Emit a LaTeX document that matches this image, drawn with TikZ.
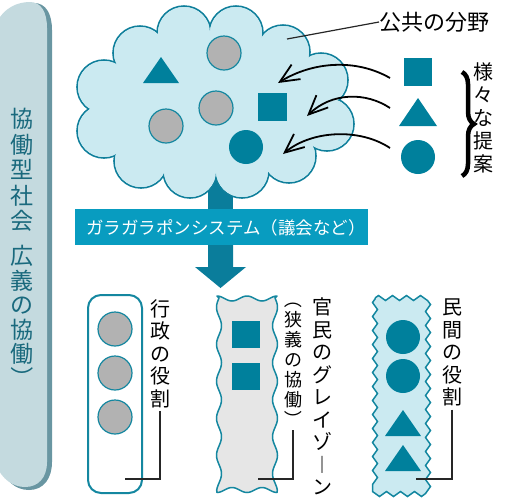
\documentclass[tikz,border=0pt]{standalone}
\usepackage{fontspec}
\usepackage{graphicx}
\newfontfamily\jp{Noto Sans CJK JP}
\usetikzlibrary{decorations.pathmorphing,decorations.pathreplacing,arrows.meta}
\definecolor{tealA}{RGB}{0,128,156}
\definecolor{tealB}{RGB}{20,135,160}
\definecolor{cloudfill}{RGB}{203,234,241}
\definecolor{cloudline}{RGB}{15,127,155}
\definecolor{greyA}{RGB}{178,178,178}
\definecolor{greyW}{RGB}{230,230,230}
\definecolor{barcol}{RGB}{8,156,192}
\definecolor{stemcol}{RGB}{10,125,155}
\definecolor{pillfill}{RGB}{196,218,223}
\definecolor{pillshadow}{RGB}{105,150,162}
\definecolor{pilltext}{RGB}{25,105,125}
\newcommand{\vlp}{\rotatebox[origin=c]{-90}{（}}
\newcommand{\vrp}{\rotatebox[origin=c]{-90}{）}}
\begin{document}
\begin{tikzpicture}[x=1pt,y=-1pt,
  jpv/.style={align=center, inner sep=0pt, anchor=north, font=\jp\fontsize{20}{22.5}\selectfont},
  tealshape/.style={fill=tealA, draw=none},
  greyc/.style={fill=greyA, draw=tealB, line width=1.2pt},
  tealc/.style={fill=tealA, draw=none},
  leader/.style={draw=black!85, line width=1.2pt},
  bigarr/.style={draw=black, line width=1.8pt, -{Straight Barb[length=19pt,width=17pt,line width=1.8pt]}},
  cloudlobe/.style={fill=cloudfill, draw=cloudline, line width=1.6pt}
]
\useasboundingbox (0,0) rectangle (516,499);

% left pill
\fill[pillshadow] (2,22) .. controls (9,8) and (21,3) .. (34,3) .. controls (46,3) and (52,14) .. (52,30) -- (52,462) .. controls (52,478) and (44,490) .. (29,490) .. controls (15,490) and (5,480) .. (2,468) -- cycle;
\fill[pillfill] (-3,22) .. controls (4,8) and (17,2) .. (30,2) .. controls (41,2) and (47,12) .. (47,28) -- (47,462) .. controls (47,478) and (38,487) .. (25,487) .. controls (12,487) and (2,478) .. (-3,467) -- cycle;
\node[jpv, text=pilltext, font=\jp\fontsize{23}{25.5}\selectfont] (pilltxt) at (22,108) {協\\働\\型\\社\\会};
\node[jpv, text=pilltext, font=\jp\fontsize{23}{24.5}\selectfont] (pilltxtb) at (22,245) {広\\義\\の\\協\\働\\\vrp};

% stem above bar (behind cloud)
\fill[stemcol] (208,175) rectangle (233,210);

% cloud
\foreach \p in {(184,33),(140,53),(104,87),(104,131),(141,161),(190,171),(242,171),(289,156),(327,124),(321,80),(283,52),(236,33)}
  \filldraw[cloudlobe] \p circle (27);
\fill[cloudfill] (184,33) -- (140,53) -- (104,87) -- (104,131) -- (141,161) -- (190,171) -- (242,171) -- (289,156) -- (327,124) -- (321,80) -- (283,52) -- (236,33) -- cycle;
\foreach \p in {(184,33),(140,53),(104,87),(104,131),(141,161),(190,171),(242,171),(289,156),(327,124),(321,80),(283,52),(236,33)}
  \fill[cloudfill] \p circle (26.0);

% contents of cloud
\fill[tealshape] (161,57) -- (179,83) -- (143,83) -- cycle;
\filldraw[greyc] (224,53) circle (17);
\filldraw[greyc] (216,108) circle (17);
\filldraw[greyc] (166,126) circle (17);
\fill[tealshape] (258,93) rectangle (287,121);
\fill[tealc] (246,147) circle (17);

% label public field
\node[inner sep=0pt, font=\jp\fontsize{22}{24}\selectfont, anchor=west] (public) at (379,22) {公共の分野};
\coordinate (pubin) at (287,39);
\draw[leader] (pubin) -- (public.west);

% right proposals
\fill[tealshape] (404,58) rectangle (432,86);
\fill[tealshape] (418,98) -- (437,126) -- (399,126) -- cycle;
\fill[tealc] (418,157) circle (17);
\coordinate (a1s) at (390,78);  \coordinate (a1e) at (278,83);
\coordinate (a2s) at (390,108); \coordinate (a2e) at (307,116);
\coordinate (a3s) at (390,148); \coordinate (a3e) at (283,154);
\draw[bigarr] (a1s) .. controls (355,58) and (312,62) .. (a1e);
\draw[bigarr] (a2s) .. controls (366,92) and (332,92) .. (a2e);
\draw[bigarr] (a3s) .. controls (360,128) and (312,130) .. (a3e);

% brace and text
\coordinate (bt) at (462,72); \coordinate (bb) at (462,176);
\draw[decorate, decoration={brace, amplitude=12pt}, line width=4.5pt] (bt) -- (bb);
\node[jpv, font=\jp\fontsize{20}{23}\selectfont] (teian) at (483,62) {様\\々\\な\\提\\案};

% bar
\fill[barcol] (75,209) rectangle (368,245);
\node[inner sep=0pt, text=white, font=\jp\fontsize{17.5}{20}\selectfont] (bar) at (226,228) {ガラガラポンシステム（議会など）};

% down arrow
\fill[stemcol] (208,245) -- (233,245) -- (233,267) -- (246,267) -- (220.5,288) -- (195,267) -- (208,267) -- cycle;

% administration
\draw[draw=tealB, line width=2pt, rounded corners=13pt, fill=white] (88,295) rectangle (142,493);
\filldraw[greyc] (115,329) circle (17);
\filldraw[greyc] (115,373) circle (17);
\filldraw[greyc] (115,417) circle (17);
\node[jpv] (gyosei) at (160,299) {行\\政\\の\\役\\割};
\coordinate (g1) at (125,479);
\draw[leader] (gyosei.south) ++(0,3) |- (g1);

% grey zone (wavy)
\filldraw[fill=greyW, draw=tealB, line width=1.5pt, line join=round]
  plot[domain=217:277, samples=41, variable=\x] (\x, {298.5-2.5*cos(12*(\x-217))})
  -- plot[domain=298:490, samples=90, variable=\y] ({275+2.5*sin(9.73*(\y-298))}, \y)
  -- plot[domain=277:217, samples=41, variable=\x] (\x, {490+2.5*cos(12*(\x-217))})
  -- plot[domain=490:298, samples=90, variable=\y] ({219-2.5*sin(9.73*(\y-298))}, \y) -- cycle;
\fill[tealshape] (232,321) rectangle (260,348);
\fill[tealshape] (232,363) rectangle (260,390);
\node[jpv] (kanmin) at (322,298) {官\\民\\の\\グ\\レ\\イ\\ゾ\\︱\\ン};
\node[jpv, font=\jp\fontsize{18}{20}\selectfont] (kyogi) at (293,290) {\vlp\\狭\\義\\の\\協\\働\\\vrp};
\coordinate (k1) at (258,479);
\draw[leader] (kyogi.south) ++(0,2) |- (k1);

% private
\filldraw[fill=cloudfill, draw=tealB, line width=1.5pt, decorate, decoration={zigzag, amplitude=2.5pt, segment length=14pt}] (375,298) -- (428,298) -- (428,494) -- (375,494) -- cycle;
\fill[tealc] (403,337) circle (17);
\fill[tealc] (403,376) circle (17);
\fill[tealshape] (403,410) -- (421,436) -- (385,436) -- cycle;
\fill[tealshape] (403,445) -- (421,471) -- (385,471) -- cycle;
\node[jpv] (minkan) at (452,299) {民\\間\\の\\役\\割};
\coordinate (m1) at (416,479);
\draw[leader] (minkan.south) ++(0,3) |- (m1);
\end{tikzpicture}
\end{document}
